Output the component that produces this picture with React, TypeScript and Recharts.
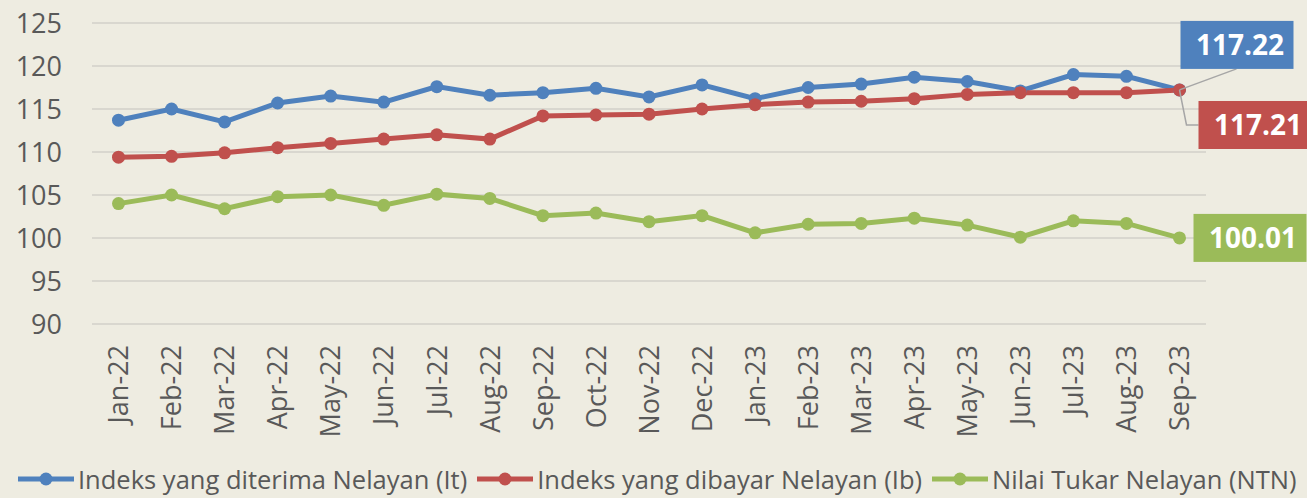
import { LineChart, Line, XAxis, YAxis, CartesianGrid, Legend, LabelList } from 'recharts';

const MONTHS = [
  'Jan-22', 'Feb-22', 'Mar-22', 'Apr-22', 'May-22', 'Jun-22', 'Jul-22',
  'Aug-22', 'Sep-22', 'Oct-22', 'Nov-22', 'Dec-22', 'Jan-23', 'Feb-23',
  'Mar-23', 'Apr-23', 'May-23', 'Jun-23', 'Jul-23', 'Aug-23', 'Sep-23',
];
const IT = [
  113.7, 115.0, 113.5, 115.7, 116.5, 115.8, 117.6, 116.6, 116.9, 117.4, 116.4,
  117.8, 116.2, 117.5, 117.9, 118.7, 118.2, 117.1, 119.0, 118.8, 117.22,
];
const IB = [
  109.4, 109.5, 109.9, 110.5, 111.0, 111.5, 112.0, 111.5, 114.2, 114.3, 114.4,
  115.0, 115.5, 115.8, 115.9, 116.2, 116.7, 116.9, 116.9, 116.9, 117.21,
];
const NTN = [
  104.0, 105.0, 103.4, 104.8, 105.0, 103.8, 105.1, 104.6, 102.6, 102.9, 101.9,
  102.6, 100.6, 101.6, 101.7, 102.3, 101.5, 100.1, 102.0, 101.7, 100.01,
];
const SERIES_NAMES = [
  'Indeks yang diterima Nelayan (It)',
  'Indeks yang dibayar Nelayan (Ib)',
  'Nilai Tukar Nelayan (NTN)',
];
const Y_TICKS = [90, 95, 100, 105, 110, 115, 120, 125];
// category boundaries, used only for the small marks under the axis
const BOUNDS = [0, 1, 2, 3, 4, 5, 6, 7, 8, 9, 10, 11, 12, 13, 14, 15, 16, 17, 18, 19, 20, 21];

const BLUE = '#4F81BD';
const RED = '#C0504D';
const GREEN = '#9BBB59';
const BG = '#EEECE1';
const GRID = '#D9D7CF';
const TEXT = '#595959';
const LEADER = '#A6A6A6';
const FONT = '"Open Sans", sans-serif';

const data = MONTHS.map((month, i) => ({ month, it: IT[i], ib: IB[i], ntn: NTN[i] }));

const MonthTick = ({ x, y, payload }: any) => (
  <text
    transform={`translate(${x},${y + 21}) rotate(-90)`}
    textAnchor="end"
    dy="0.36em"
    fill={TEXT}
    fontSize={27}
    fontFamily={FONT}
  >
    {payload.value}
  </text>
);

type BadgeOpts = { color: string; dx: number; dy: number; leader?: 'up' | 'elbow' };

const makeBadge = ({ color, dx, dy, leader }: BadgeOpts) => (props: any) => {
  const { index, value } = props;
  if (index !== MONTHS.length - 1) return null;
  const x = props.viewBox?.x ?? props.x;
  const y = props.viewBox?.y ?? props.y;
  const w = 113;
  const h = 48;
  const bx = x + dx;
  const by = y + dy;
  return (
    <g>
      {leader === 'up' && (
        <line x1={bx + 56} y1={by + h} x2={x} y2={y} stroke={LEADER} strokeWidth={1.5} />
      )}
      {leader === 'elbow' && (
        <polyline
          points={`${x},${y} ${x + 7},${by + h / 2} ${bx},${by + h / 2}`}
          fill="none"
          stroke={LEADER}
          strokeWidth={1.5}
        />
      )}
      <rect x={bx} y={by} width={w} height={h} fill={color} />
      <text
        x={bx + w / 2 + 3}
        y={by + h / 2}
        dy="0.36em"
        textAnchor="middle"
        fill="#FFFFFF"
        fontSize={28}
        fontWeight={700}
        fontFamily={FONT}
      >
        {Number(value).toFixed(2)}
      </text>
    </g>
  );
};

const LegendContent = ({ payload }: any) => {
  const items = [...(payload || [])].sort(
    (a: any, b: any) => SERIES_NAMES.indexOf(a.value) - SERIES_NAMES.indexOf(b.value),
  );
  return (
    <div style={{ height: 40, position: 'relative', fontFamily: FONT }}>
      <div style={{ position: 'absolute', left: 18, top: 8, display: 'flex', alignItems: 'center', whiteSpace: 'nowrap' }}>
        {items.map((p: any) => (
          <div key={p.value} style={{ display: 'flex', alignItems: 'center', marginRight: 10 }}>
            <svg width={56} height={16} style={{ marginRight: 4 }}>
              <line x1={0} y1={8} x2={56} y2={8} stroke={p.color} strokeWidth={5} />
              <circle cx={28} cy={8} r={6.5} fill={p.color} />
            </svg>
            <span style={{ fontSize: 25.5, lineHeight: '26px', color: TEXT }}>{p.value}</span>
          </div>
        ))}
      </div>
    </div>
  );
};

const App = () => {
  return (
    <div style={{ position: 'absolute', left: 0, top: 0, width: 1307, height: 498, background: BG, overflow: 'hidden' }}>
      <LineChart width={1307} height={498} data={data} margin={{ top: 23, right: 101, left: 0, bottom: 0 }}>
        <CartesianGrid xAxisId="cat" vertical={false} stroke={GRID} strokeWidth={2} />
        <XAxis
          xAxisId="grid"
          type="number"
          domain={[0, 21]}
          ticks={BOUNDS}
          tick={false}
          tickSize={9}
          tickLine={{ stroke: GRID, strokeWidth: 2 }}
          axisLine={{ stroke: GRID, strokeWidth: 2 }}
          height={0}
          allowDataOverflow
        />
        <XAxis
          xAxisId="cat"
          dataKey="month"
          padding={{ left: 26.5, right: 26.5 }}
          axisLine={false}
          tickLine={false}
          tickSize={0}
          tickMargin={0}
          interval={0}
          tick={<MonthTick />}
          height={134}
        />
        <YAxis
          domain={[90, 125]}
          ticks={Y_TICKS}
          width={92}
          axisLine={false}
          tickLine={false}
          tickSize={0}
          tickMargin={30}
          tick={{ fill: TEXT, fontSize: 27, fontFamily: FONT }}
        />
        <Legend verticalAlign="bottom" content={<LegendContent />} wrapperStyle={{ left: 0, width: 1307 }} />
        <Line
          xAxisId="cat"
          dataKey="it"
          name={SERIES_NAMES[0]}
          stroke={BLUE}
          strokeWidth={5}
          dot={{ r: 6.5, fill: BLUE, stroke: BLUE, strokeWidth: 0 }}
          isAnimationActive={false}
        >
          <LabelList dataKey="it" content={makeBadge({ color: BLUE, dx: 1, dy: -69, leader: 'up' })} />
        </Line>
        <Line
          xAxisId="cat"
          dataKey="ib"
          name={SERIES_NAMES[1]}
          stroke={RED}
          strokeWidth={5}
          dot={{ r: 6.5, fill: RED, stroke: RED, strokeWidth: 0 }}
          isAnimationActive={false}
        >
          <LabelList dataKey="ib" content={makeBadge({ color: RED, dx: 19, dy: 11, leader: 'elbow' })} />
        </Line>
        <Line
          xAxisId="cat"
          dataKey="ntn"
          name={SERIES_NAMES[2]}
          stroke={GREEN}
          strokeWidth={5}
          dot={{ r: 6.5, fill: GREEN, stroke: GREEN, strokeWidth: 0 }}
          isAnimationActive={false}
        >
          <LabelList dataKey="ntn" content={makeBadge({ color: GREEN, dx: 14, dy: -24 })} />
        </Line>
      </LineChart>
    </div>
  );
};

export default App;
